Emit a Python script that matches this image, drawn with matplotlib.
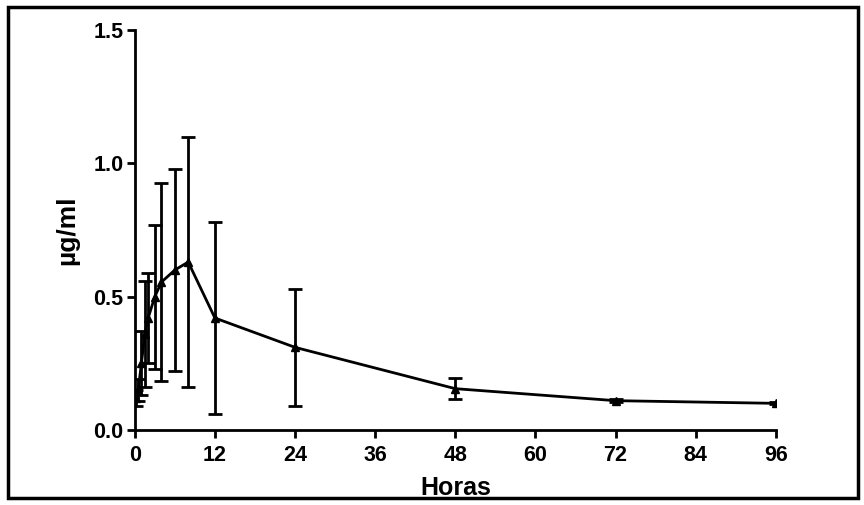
import matplotlib.pyplot as plt
from matplotlib.patches import Rectangle

plt.rcParams['font.family'] = ['Liberation Sans', 'DejaVu Sans']

horas = [0.25, 0.5, 1, 1.5, 2, 3, 4, 6, 8, 12, 24, 48, 72, 96]
media = [0.12, 0.15, 0.25, 0.36, 0.42, 0.50, 0.555, 0.60, 0.63, 0.42, 0.31, 0.155, 0.11, 0.10]
desvio = [0.03, 0.04, 0.12, 0.20, 0.17, 0.27, 0.37, 0.38, 0.47, 0.36, 0.22, 0.04, 0.005, 0.004]

xticks = [0, 12, 24, 36, 48, 60, 72, 84, 96]
yticks = [0.0, 0.5, 1.0, 1.5]

fig = plt.figure(figsize=(8.64, 5.05), dpi=100)
ax = fig.add_axes([0.156, 0.1485, 0.742, 0.792])

ax.errorbar(horas, media, yerr=desvio, color='black', lw=2, marker='^', ms=6,
            capsize=5, capthick=2, elinewidth=2)

ax.set_xlim(0, 96)
ax.set_ylim(0, 1.5)
ax.set_xticks(xticks)
ax.set_yticks(yticks)
ax.set_yticklabels(['%.1f' % v for v in yticks])

for s in ['top', 'right']:
    ax.spines[s].set_visible(False)
for s in ['left', 'bottom']:
    ax.spines[s].set_linewidth(2)

ax.tick_params(width=2, length=6, labelsize=15.5)
ax.tick_params(axis='y', pad=2)
ax.tick_params(axis='x', pad=5)
for lab in ax.get_xticklabels() + ax.get_yticklabels():
    lab.set_fontweight('bold')

ax.set_xlabel('Horas', fontsize=18, fontweight='bold', labelpad=7)
ax.set_ylabel('µg/ml', fontsize=19, fontweight='bold', labelpad=10)

# marco alrededor de la figura
fig.patches.append(Rectangle((0.009, 0.014), 0.984, 0.972, transform=fig.transFigure,
                             fill=False, edgecolor='black', lw=2.5))

fig.savefig('out.png', dpi=100)
